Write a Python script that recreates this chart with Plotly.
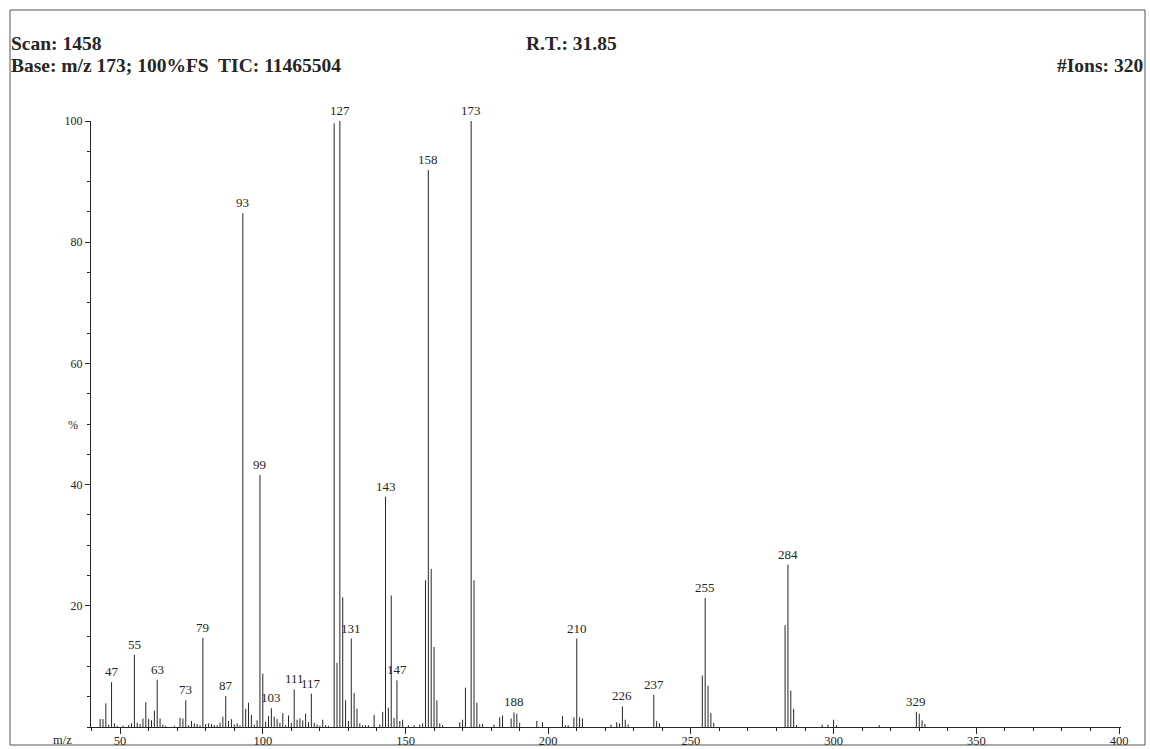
import plotly.graph_objects as go

# Centroided EI mass spectrum, scan 1458 (relative intensity, % of base peak m/z 173)
mz = [43, 44, 45, 46, 47, 48, 49, 51, 53, 54, 55, 56, 57, 58, 59, 60, 61, 62, 63, 64, 65, 66, 69,
      71, 72, 73, 74, 75, 76, 77, 78, 79, 80, 81, 82, 83, 84, 85, 86, 87, 88, 89, 90, 91, 92,
      93, 94, 95, 96, 97, 98, 99, 100, 101, 102, 103, 104, 105, 106, 107, 108, 109, 110, 111,
      112, 113, 114, 115, 116, 117, 118, 119, 120, 121, 122, 123,
      125, 126, 127, 128, 129, 130, 131, 132, 133, 134, 135, 136, 137, 139, 141, 142, 143, 144,
      145, 146, 147, 148, 149, 151, 153, 155, 156, 157, 158, 159, 160, 161, 162, 163,
      169, 170, 171, 173, 174, 175, 176, 177, 181, 183, 184, 187, 188, 189, 190, 196, 198,
      205, 206, 207, 209, 210, 211, 212, 222, 224, 225, 226, 227, 228, 237, 238, 239,
      254, 255, 256, 257, 258, 283, 284, 285, 286, 287, 296, 298, 300, 301, 316,
      329, 330, 331, 332]
intensity = [1.3, 1.3, 3.9, 0.4, 7.4, 0.6, 0.2, 0.2, 0.3, 0.6, 11.9, 0.7, 0.5, 1.4, 4.1, 1.3, 1.1, 2.7, 7.8, 1.4, 0.4, 0.2, 0.2,
             1.5, 1.4, 4.4, 0.3, 1.0, 0.6, 0.5, 0.3, 14.7, 0.5, 0.6, 0.5, 0.3, 0.3, 0.7, 1.7, 5.1, 1.0, 1.3, 0.4, 0.6, 0.3,
             84.8, 3.0, 4.0, 2.0, 0.4, 1.1, 41.6, 8.8, 0.9, 1.8, 3.1, 1.7, 1.3, 0.7, 2.3, 0.3, 1.9, 0.7, 6.2,
             1.2, 1.4, 1.1, 2.2, 0.8, 5.5, 0.7, 0.4, 0.2, 1.2, 0.3, 0.2,
             99.6, 10.6, 100.0, 21.4, 4.4, 1.0, 14.6, 5.6, 3.0, 0.6, 0.3, 0.3, 0.3, 2.0, 0.4, 2.5, 38.0, 3.2,
             21.7, 1.5, 7.7, 1.0, 1.2, 0.3, 0.3, 0.4, 0.6, 24.2, 91.9, 26.1, 13.2, 4.4, 0.6, 0.3,
             0.8, 1.2, 6.5, 100.0, 24.2, 4.0, 0.5, 0.5, 0.4, 1.6, 1.9, 1.4, 2.4, 2.2, 0.7, 1.0, 0.8,
             1.8, 0.3, 0.3, 1.6, 14.6, 1.6, 1.4, 0.4, 0.8, 0.6, 3.4, 1.2, 0.4, 5.3, 1.0, 0.6,
             8.5, 21.3, 6.8, 2.3, 0.7, 16.8, 26.8, 6.0, 3.0, 0.3, 0.4, 0.4, 1.2, 0.3, 0.3,
             2.5, 2.2, 1.1, 0.5]

# Peaks that carry an m/z label
labelled = [47, 55, 63, 73, 79, 87, 93, 99, 103, 111, 117, 127, 131, 143, 147,
            158, 173, 188, 210, 226, 237, 255, 284, 329]

x_ticks = [50, 100, 150, 200, 250, 300, 350, 400]
y_ticks = [20, 40, 60, 80, 100]

header_left_1 = "Scan: 1458"
header_left_2 = "Base: m/z 173; 100%FS  TIC: 11465504"
header_mid = "R.T.: 31.85"
header_right = "#Ions: 320"

W, H = 1150, 749
ML, MR, MT, MB = 91, 29, 121, 22
PW, PH = W - ML - MR, H - MT - MB

def px_x(px):
    return (px - ML) / PW

def px_y(py):
    return (H - MB - py) / PH

# stick spectrum: one vertical segment per centroid
xs, ys = [], []
for m, h in zip(mz, intensity):
    xs += [m, m, None]
    ys += [0, h, None]

fig = go.Figure()
fig.add_trace(go.Scatter(x=xs, y=ys, mode="lines",
                         line=dict(color="#262626", width=1),
                         hoverinfo="skip", showlegend=False))

serif = "Liberation Serif"
ink = "#262626"

annotations = []
lookup = dict(zip(mz, intensity))
for m in labelled:
    annotations.append(dict(x=m, y=lookup[m], xref="x", yref="y", text=str(m),
                            showarrow=False, yanchor="bottom", yshift=1,
                            font=dict(family=serif, size=13, color=ink)))

def header(text, px, py, anchor):
    return dict(x=px_x(px), y=px_y(py), xref="paper", yref="paper", text=f"<b>{text}</b>",
                showarrow=False, xanchor=anchor, yanchor="middle",
                font=dict(family=serif, size=19.5, color=ink))

annotations += [
    header(header_left_1, 9, 44, "left"),
    header(header_left_2, 9, 65, "left"),
    header(header_mid, 571, 44, "center"),
    header(header_right, 1145, 65, "right"),
    dict(x=px_x(66), y=px_y(425), xref="paper", yref="paper", text="%", showarrow=False,
         font=dict(family=serif, size=12, color=ink)),
    dict(x=px_x(62), y=px_y(740), xref="paper", yref="paper", text="m/z", showarrow=False,
         xanchor="center", yanchor="middle",
         font=dict(family=serif, size=12.5, color=ink)),
]

fig.update_layout(
    width=W, height=H, autosize=False,
    margin=dict(l=ML, r=MR, t=MT, b=MB, pad=0, autoexpand=False),
    paper_bgcolor="white", plot_bgcolor="white",
    annotations=annotations,
    shapes=[dict(type="rect", xref="paper", yref="paper",
                 x0=px_x(10), x1=px_x(1145), y0=px_y(745), y1=px_y(10),
                 line=dict(color="#555", width=1), fillcolor="rgba(0,0,0,0)", layer="below")],
    xaxis=dict(range=[39.8, 400.7], tickvals=x_ticks, ticktext=[str(v) for v in x_ticks],
               automargin=False, ticklabelstandoff=-4,
               showgrid=False, zeroline=False, showline=True, linecolor=ink, linewidth=1,
               ticks="outside", ticklen=6, tickcolor=ink, tickwidth=1,
               minor=dict(tick0=0, dtick=10, ticks="outside", ticklen=3, tickcolor=ink),
               tickfont=dict(family=serif, size=12.5, color=ink), fixedrange=True),
    yaxis=dict(range=[0, 100], tickvals=y_ticks, ticktext=[str(v) for v in y_ticks],
               automargin=False,
               showgrid=False, zeroline=False, showline=True, linecolor=ink, linewidth=1,
               ticks="outside", ticklen=5, tickcolor=ink, tickwidth=1,
               minor=dict(tick0=0, dtick=5, ticks="outside", ticklen=3, tickcolor=ink),
               tickfont=dict(family=serif, size=12, color=ink), fixedrange=True),
)

fig.write_html("out.html")
